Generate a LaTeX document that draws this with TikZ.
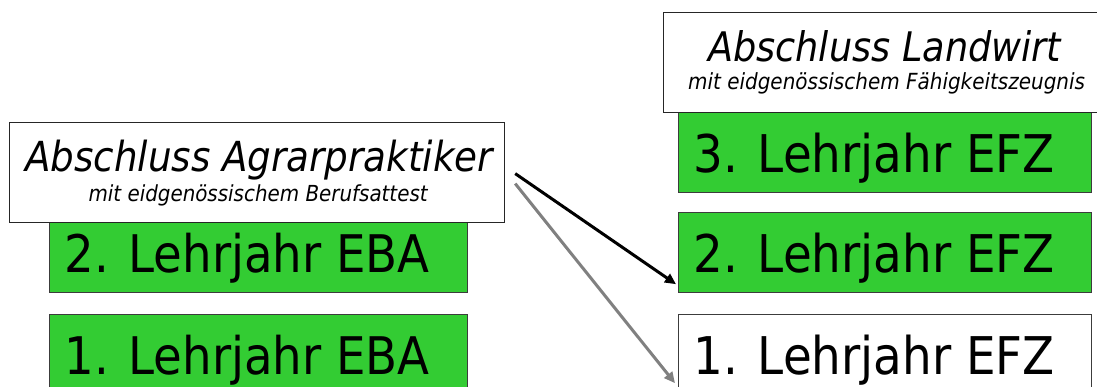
\documentclass[tikz,border=0pt]{standalone}
\usepackage{fontspec}
\setmainfont{DejaVu Sans Condensed}
\usetikzlibrary{calc,arrows.meta}
\definecolor{boxgreen}{RGB}{51,204,51}
\definecolor{edgegray}{RGB}{60,60,60}
\definecolor{arrowgray}{RGB}{128,128,128}
\tikzset{
 yearbox/.style={draw=edgegray, line width=1.2pt, fill=boxgreen, anchor=north west, inner xsep=15pt, inner ysep=0pt, text height=40pt, text depth=0pt, minimum height=80pt},
 whitebox/.style={yearbox, fill=white},
 titlebox/.style={draw=black!85, line width=1.2pt, fill=white, anchor=north west, inner sep=0pt},
 titletext/.style={anchor=base, inner sep=0pt, font=\itshape},
 conn/.style={line width=3pt, -{Triangle[length=11pt,width=10pt]}},
}
\begin{document}
\begin{tikzpicture}[x=1pt,y=-1pt]
\useasboundingbox (0,0) rectangle (1097,387);
\clip (0,0) rectangle (1097,387);
\node[yearbox] (eba1) at (49,314) {\makebox[388pt][l]{\resizebox{365pt}{!}{1. Lehrjahr EBA}}};
\node[yearbox] (eba2) at (49,212) {\makebox[388pt][l]{\resizebox{365pt}{!}{2. Lehrjahr EBA}}};
\node[whitebox] (efz1) at (678,314) {\makebox[383pt][l]{\resizebox{361pt}{!}{1. Lehrjahr EFZ}}};
\node[yearbox] (efz2) at (678,212) {\makebox[383pt][l]{\resizebox{361pt}{!}{2. Lehrjahr EFZ}}};
\node[yearbox] (efz3) at (678,112) {\makebox[383pt][l]{\resizebox{361pt}{!}{3. Lehrjahr EFZ}}};
\node[titlebox, minimum width=495pt, minimum height=100pt] (tagr) at (9,122) {};
\node[titletext] (tagr1) at ($(tagr.north)+(2,50)$) {\resizebox{468pt}{!}{Abschluss Agrarpraktiker}};
\node[titletext] (tagr2) at ($(tagr.north)+(1,80)$) {\resizebox{339pt}{!}{mit eidgenössischem Berufsattest}};
\node[titlebox, minimum width=444pt, minimum height=100pt] (tlw) at (663,12) {};
\node[titletext] (tlw1) at ($(tlw.north)+(-1,50)$) {\resizebox{353pt}{!}{Abschluss Landwirt}};
\node[titletext] (tlw2) at ($(tlw.north)+(1,78)$) {\resizebox{397pt}{!}{mit eidgenössischem Fähigkeitszeugnis}};
\coordinate (s1) at ($(tagr.east)+(10,1)$);
\coordinate (s2) at ($(tagr.east)+(10,11)$);
\coordinate (e1) at ($(efz2.south west)+(-2,-9)$);
\coordinate (e2) at ($(efz1.south west)+(-3,-12)$);
\draw[conn, black] (s1) -- (e1);
\draw[conn, arrowgray] (s2) -- (e2);
\end{tikzpicture}
\end{document}
